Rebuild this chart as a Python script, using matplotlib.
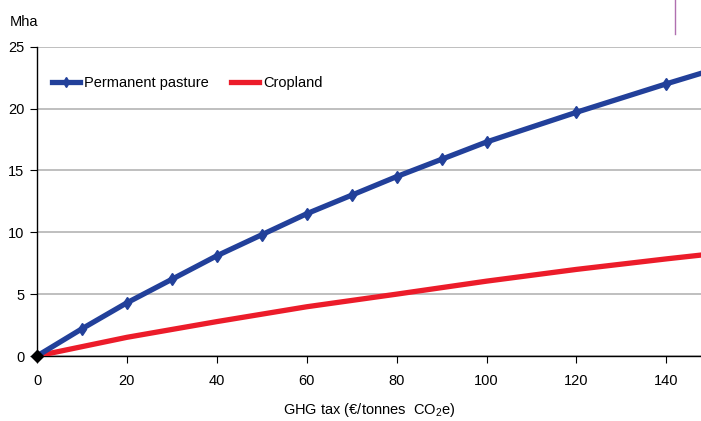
import matplotlib
matplotlib.use("Agg")
import matplotlib.pyplot as plt
from matplotlib.lines import Line2D

plt.rcParams['font.family'] = ['Liberation Sans Narrow', 'Liberation Sans', 'DejaVu Sans']
plt.rcParams['mathtext.fontset'] = 'custom'
plt.rcParams['mathtext.rm'] = 'Liberation Sans'
plt.rcParams['mathtext.it'] = 'Liberation Sans'

# Data
tax = [0, 10, 20, 30, 40, 50, 60, 70, 80, 90, 100, 120, 140, 150]
pasture = [0, 2.2, 4.3, 6.2, 8.1, 9.8, 11.5, 13.0, 14.5, 15.9, 17.3, 19.7, 22.0, 23.1]
marker_tax = [10, 20, 30, 40, 50, 60, 70, 80, 90, 100, 120, 140]
marker_pasture = [2.2, 4.3, 6.2, 8.1, 9.8, 11.5, 13.0, 14.5, 15.9, 17.3, 19.7, 22.0]
crop_tax = [0, 20, 40, 60, 80, 100, 120, 140, 150]
cropland = [0, 1.51, 2.78, 3.98, 5.0, 6.05, 7.0, 7.85, 8.25]

xticks = [0, 20, 40, 60, 80, 100, 120, 140]
yticks = [0, 5, 10, 15, 20, 25]

blue = '#22409a'
red = '#ec1c2a'
fs = 10.5

fig = plt.figure(figsize=(7.01, 4.21), dpi=100)
ax = fig.add_axes([37/701, 1-356/421, 1-37/701, (356-46.7)/421])

ax.plot(crop_tax, cropland, color=red, lw=3.8, solid_capstyle='butt', zorder=3)
ax.plot(tax, pasture, color=blue, lw=3.8, solid_capstyle='butt', zorder=4)
ax.plot(marker_tax, marker_pasture, ls='none', marker='d', ms=6.5, color=blue, zorder=5)
ax.plot([0], [0], ls='none', marker='D', ms=6, color='black', zorder=6, clip_on=False)

ax.set_xlim(0, 147.7)
ax.set_ylim(0, 25)
ax.set_xticks(xticks)
ax.set_yticks(yticks)
ax.grid(axis='y', color='#b4b4b4', lw=1.2)
ax.set_axisbelow(True)
for s in ['top', 'right']:
    ax.spines[s].set_visible(False)
for s in ['left', 'bottom']:
    ax.spines[s].set_color('black')
    ax.spines[s].set_linewidth(1.0)
ax.tick_params(axis='both', direction='out', length=5, width=0.8, labelsize=fs, colors='black')
ax.tick_params(axis='x', pad=8)
ax.tick_params(axis='y', pad=4)
ax.set_xlabel(r'GHG tax (€/tonnes  CO$_2$e)', fontsize=fs, labelpad=9)

handles = [Line2D([], [], color=blue, lw=3.8, marker='d', ms=5.5),
           Line2D([], [], color=red, lw=3.8)]
ax.legend(handles, ['Permanent pasture', 'Cropland'], loc='center left',
          bbox_to_anchor=((52-37)/664, (356-83)/309.3), ncol=2, frameon=False, fontsize=fs,
          handlelength=1.95, handletextpad=0.25, columnspacing=1.5,
          borderaxespad=0, borderpad=0)

fig.text(10/701, 1-22/421, 'Mha', fontsize=fs, va='center', ha='left')
fig.add_artist(Line2D([675/701, 675/701], [1-34/421, 1.0], color='#b070b0', lw=1.0))

fig.savefig('out.png', dpi=100)
